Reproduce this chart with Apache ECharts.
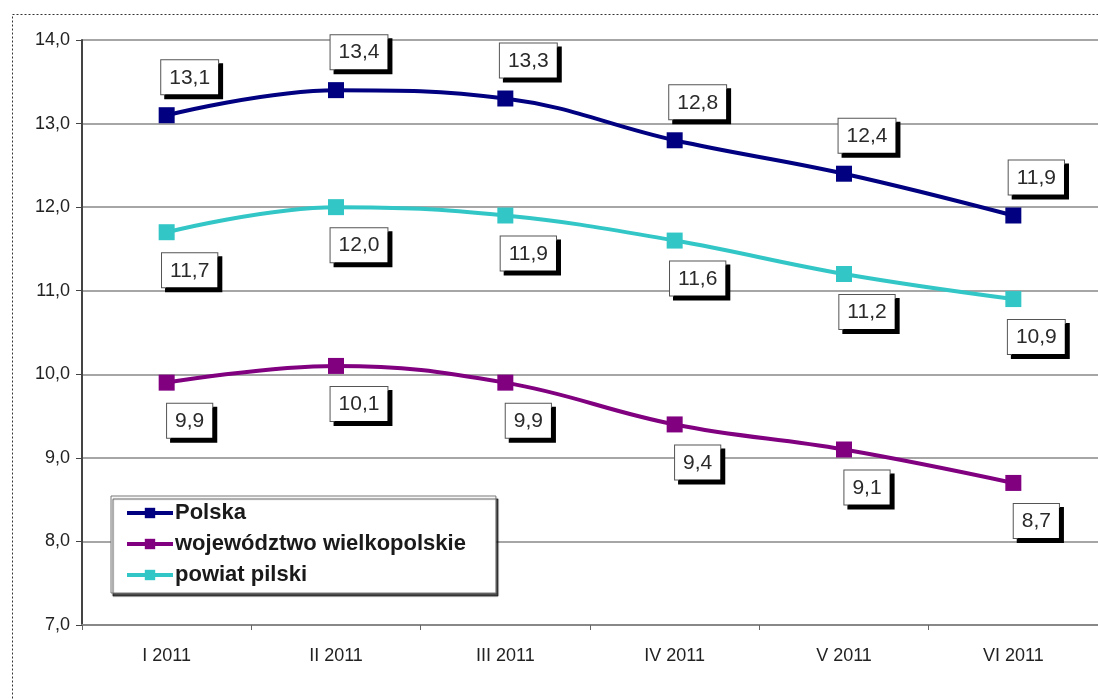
<!DOCTYPE html>
<html>
<head>
<meta charset="utf-8">
<script src="https://cdn.jsdelivr.net/npm/echarts@6/dist/echarts.min.js"></script>
<style>
    html, body { margin: 0; padding: 0; background: #fff; }
    #chart { width: 1098px; height: 699px; }
</style>
</head>
<body>
<div id="chart"></div>
<script>
// miesiące i stopa bezrobocia (%)
const categories = ['I 2011', 'II 2011', 'III 2011', 'IV 2011', 'V 2011', 'VI 2011']
const polska = [13.1, 13.4, 13.3, 12.8, 12.4, 11.9]
const wielkopolskie = [9.9, 10.1, 9.9, 9.4, 9.1, 8.7]
const pilski = [11.7, 12.0, 11.9, 11.6, 11.2, 10.9]

const fmt = v => v.toFixed(1).replace('.', ',')

// ramka etykiety z cieniem jak w Excelu
const boxLabel = (position) => ({
    show: true,
    position: position,
    distance: 13,
    offset: [23, 0],
    formatter: p => fmt(p.value),
    fontFamily: 'Liberation Sans, Arial, sans-serif',
    fontSize: 21,
    color: '#2a2a2a',
    backgroundColor: '#fff',
    borderColor: '#555',
    borderWidth: 1,
    padding: [7, 8, 6, 8],
    shadowColor: '#000',
    shadowBlur: 0,
    shadowOffsetX: 4,
    shadowOffsetY: 4
})

const makeSeries = (name, data, color, position) => ({
    name: name,
    type: 'line',
    data: data,
    smooth: 0.4,
    symbol: 'rect',
    symbolSize: 16,
    color: color,
    lineStyle: { width: 4, color: color },
    itemStyle: { color: color },
    label: boxLabel(position),
    z: 3
})

const myChart = echarts.init(document.getElementById('chart'))
myChart.setOption({
    animation: false,
    backgroundColor: '#fff',
    graphic: [{
        type: 'rect',
        shape: { x: 12.5, y: 14.5, width: 1100, height: 700 },
        style: { fill: 'none', stroke: '#333', lineWidth: 1, lineDash: [2, 2] },
        silent: true
    }],
    grid: {
        left: 82,
        top: 40,
        width: 1020,
        height: 585
    },
    legend: {
        orient: 'vertical',
        left: 111,
        top: 496,
        itemWidth: 46,
        itemHeight: 13,
        itemGap: 9,
        padding: [6, 30, 7, 14],
        backgroundColor: '#fff',
        borderColor: '#777',
        borderWidth: 1,
        shadowColor: 'rgba(0,0,0,0.7)',
        shadowOffsetX: 2,
        shadowOffsetY: 3,
        shadowBlur: 1,
        lineStyle: { width: 4 },
        textStyle: {
            fontFamily: 'Liberation Sans, Arial, sans-serif',
            fontWeight: 'bold',
            fontSize: 22,
            padding: [0, 0, 0, -3],
            color: '#1a1a1a'
        },
        data: ['Polska', 'województwo wielkopolskie', 'powiat pilski']
    },
    xAxis: {
        type: 'category',
        data: categories,
        boundaryGap: true,
        axisLine: { lineStyle: { color: '#888', width: 2 } },
        axisTick: { show: true, length: 5, lineStyle: { color: '#666' } },
        axisLabel: {
            margin: 22,
            fontFamily: 'Liberation Sans, Arial, sans-serif',
            fontSize: 18,
            color: '#222'
        }
    },
    yAxis: {
        type: 'value',
        min: 7,
        max: 14,
        interval: 1,
        axisLine: { show: true, lineStyle: { color: '#444', width: 2 } },
        axisTick: { show: true, length: 6, lineStyle: { color: '#444' } },
        splitLine: { lineStyle: { color: '#888', width: 1.5 } },
        axisLabel: {
            margin: 12,
            formatter: v => fmt(v),
            fontFamily: 'Liberation Sans, Arial, sans-serif',
            fontSize: 18,
            color: '#222'
        }
    },
    series: [
        makeSeries('Polska', polska, '#000080', 'top'),
        makeSeries('województwo wielkopolskie', wielkopolskie, '#800080', 'bottom'),
        makeSeries('powiat pilski', pilski, '#33C6C6', 'bottom')
    ]
})
</script>
</body>
</html>
